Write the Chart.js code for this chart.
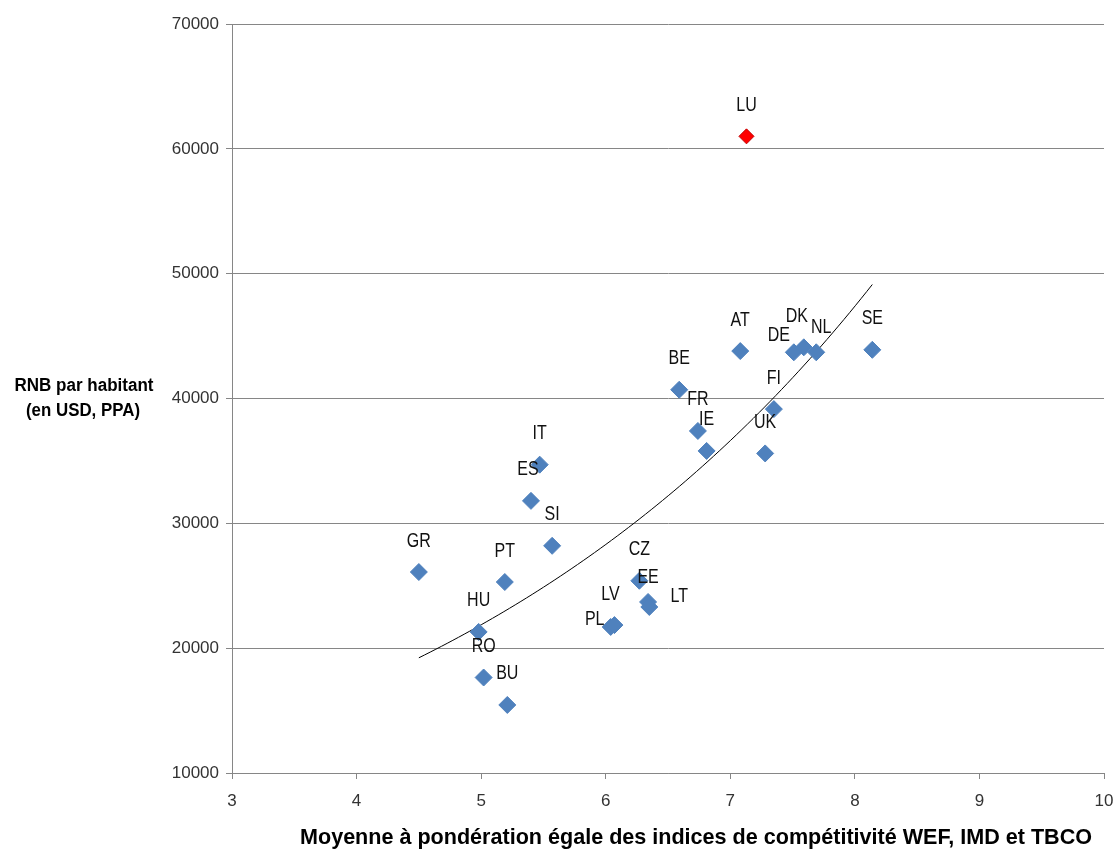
<!DOCTYPE html>
<html lang="fr">
<head>
<meta charset="utf-8">
<title>RNB par habitant et compétitivité</title>
<script src="https://cdn.jsdelivr.net/npm/chart.js@4.4.1/dist/chart.umd.min.js"></script>
<style>
  html, body { margin: 0; padding: 0; background: #fff; }
  #wrap { width: 1117px; height: 849px; position: relative; }
</style>
</head>
<body>
<div id="wrap"><canvas id="chart"></canvas></div>
<script>
// Data
const countries = ["GR","PT","SI","ES","IT","HU","RO","BU","PL","LV","CZ","EE","LT",
                   "BE","FR","IE","AT","DE","DK","NL","FI","UK","SE","LU"];
const competitiveness = [4.50, 5.19, 5.57, 5.40, 5.47, 4.98, 5.02, 5.21, 6.04, 6.07, 6.27, 6.34, 6.35,
                         6.59, 6.74, 6.81, 7.08, 7.51, 7.59, 7.69, 7.35, 7.28, 8.14, 7.13];
const gniPerCapita = [26100, 25300, 28200, 31800, 34700, 21300, 17650, 15450, 21700, 21850, 25400, 23700, 23300,
                      40700, 37400, 35800, 43800, 43700, 44100, 43700, 39150, 35600, 43900, 61000];
const highlighted = "LU";
const xTicks = [3, 4, 5, 6, 7, 8, 9, 10];
const yTicks = [10000, 20000, 30000, 40000, 50000, 60000, 70000];

const xTitle = "Moyenne à pondération égale des indices de compétitivité WEF, IMD et TBCO";
const yTitle = ["RNB par habitant", "(en USD, PPA)"];

// label nudges where the original labels were moved by hand (px, from the point)
const labelNudge = {
  DE: [-15, -17], DK: [-7, -31], NL: [5, -25], EE: [0, -24],
  LT: [30, -10], PL: [-16, -7], LV: [-4, -31], ES: [-3, -31]
};

const points = countries.map((c, i) => ({ x: competitiveness[i], y: gniPerCapita[i], name: c }));
const mainPts = points.filter(p => p.name !== highlighted);
const hiPts = points.filter(p => p.name === highlighted);

// Exponential trendline (least squares on ln y), like the spreadsheet one
function fitExp(pts) {
  const n = pts.length;
  let sx = 0, sl = 0, sxx = 0, sxl = 0;
  pts.forEach(p => {
    const l = Math.log(p.y);
    sx += p.x; sl += l; sxx += p.x * p.x; sxl += p.x * l;
  });
  const b = (n * sxl - sx * sl) / (n * sxx - sx * sx);
  const a = Math.exp((sl - b * sx) / n);
  return { a, b };
}
const fit = fitExp(points);
const xMin = Math.min(...competitiveness);
const xMax = Math.max(...competitiveness);
const trend = [];
for (let i = 0; i <= 80; i++) {
  const x = xMin + (xMax - xMin) * i / 80;
  trend.push({ x, y: fit.a * Math.exp(fit.b * x) });
}

const FONT = '"Liberation Sans", Arial, sans-serif';

// condensed text: squeeze horizontally by k
function condensed(ctx, text, cx, cy, k) {
  ctx.save();
  ctx.translate(cx, cy);
  ctx.scale(k, 1);
  ctx.fillText(text, 0, 0);
  ctx.restore();
}
function fitWidth(ctx, text, cx, cy, width) {
  condensed(ctx, text, cx, cy, width / ctx.measureText(text).width);
}

const extras = {
  id: "extras",
  afterDatasetsDraw(chart) {
    const ctx = chart.ctx;
    ctx.save();
    ctx.fillStyle = "#111";
    ctx.textAlign = "center";
    ctx.textBaseline = "middle";
    ctx.font = "20px " + FONT;
    [0, 1].forEach(di => {
      const meta = chart.getDatasetMeta(di);
      meta.data.forEach((el, i) => {
        const name = chart.data.datasets[di].data[i].name;
        const [dx, dy] = labelNudge[name] || [0, -31];
        condensed(ctx, name, el.x + dx, el.y + dy, 0.8);
      });
    });
    ctx.restore();
  },
  afterDraw(chart) {
    const ctx = chart.ctx;
    ctx.save();
    ctx.fillStyle = "#000";
    ctx.textAlign = "center";
    ctx.textBaseline = "middle";
    ctx.font = "bold 18px " + FONT;
    fitWidth(ctx, yTitle[0], 84, 386, 139);
    fitWidth(ctx, yTitle[1], 83, 411, 114);
    ctx.font = "bold 22px " + FONT;
    fitWidth(ctx, xTitle, 696, 838, 792);
    ctx.restore();
  }
};

new Chart(document.getElementById("chart"), {
  type: "scatter",
  data: {
    datasets: [
      {
        data: mainPts,
        pointStyle: "rectRot",
        pointRadius: 8.5,
        pointHoverRadius: 8.5,
        backgroundColor: "#4F81BD",
        borderColor: "#4F81BD",
        borderWidth: 1
      },
      {
        data: hiPts,
        pointStyle: "rectRot",
        pointRadius: 7.5,
        pointHoverRadius: 7.5,
        backgroundColor: "#FF0000",
        borderColor: "#C00000",
        borderWidth: 1
      },
      {
        data: trend,
        showLine: true,
        pointRadius: 0,
        borderColor: "#000",
        borderWidth: 1,
        fill: false
      }
    ]
  },
  options: {
    responsive: true,
    maintainAspectRatio: false,
    animation: false,
    layout: { padding: { top: 24, right: 13, left: 0, bottom: 0 } },
    plugins: { legend: { display: false }, tooltip: { enabled: false } },
    scales: {
      x: {
        type: "linear",
        min: 3,
        max: 10,
        afterBuildTicks: s => { s.ticks = xTicks.map(v => ({ value: v })); },
        afterFit: s => { s.height = 76; s.paddingLeft = 0; s.paddingRight = 0; },
        ticks: { color: "#333", font: { family: FONT, size: 17 }, padding: 12 },
        grid: { drawOnChartArea: false, drawTicks: true, tickLength: 6, color: "#868686" },
        border: { color: "#868686" }
      },
      y: {
        min: 10000,
        max: 70000,
        afterBuildTicks: s => { s.ticks = yTicks.map(v => ({ value: v })); },
        afterFit: s => { s.width = 232; s.paddingTop = 0; s.paddingBottom = 0; },
        ticks: { color: "#333", font: { family: FONT, size: 17 }, padding: 7, callback: v => String(v) },
        grid: { color: "#868686", tickLength: 6 },
        border: { color: "#868686" }
      }
    }
  },
  plugins: [extras]
});
</script>
</body>
</html>
